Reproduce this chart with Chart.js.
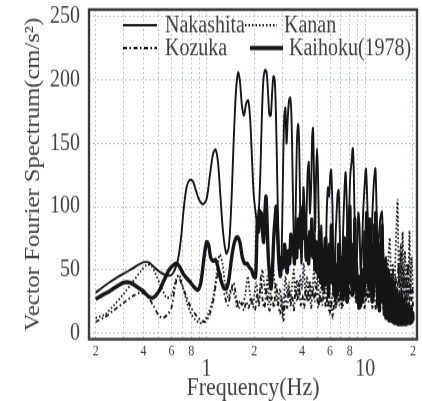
<!DOCTYPE html>
<html lang="en">

<head>
    <meta charset="UTF-8">
    <script src="https://cdn.jsdelivr.net/npm/chart.js"></script>
    <title>Vector Fourier Spectrum</title>
    <style>
        body { margin: 0; background: #fff; }
    </style>
</head>

<body>
    <canvas id="grafico" width="422" height="334" style="display:block;width:422px;height:401px"></canvas>
</body>

</html>
<script>
    // Nakashita (thin solid)
    var nakashitaHz = [0.2, 0.22, 0.25, 0.28, 0.3, 0.33, 0.36, 0.4, 0.43, 0.46, 0.5, 0.55, 0.6, 0.63, 0.66, 0.69, 0.72, 0.75, 0.78, 0.82,
        0.86, 0.9, 0.95, 1.0, 1.05, 1.1, 1.14, 1.18, 1.22, 1.27, 1.33, 1.38, 1.43, 1.48, 1.53, 1.58, 1.62, 1.67, 1.72, 1.78,
        1.83, 1.88, 1.93, 1.98, 2.03, 2.08, 2.13, 2.18, 2.23, 2.28, 2.34, 2.39, 2.44, 2.49, 2.54, 2.59, 2.64, 2.69, 2.74, 2.79,
        2.84, 2.89, 2.94, 2.99, 3.04, 3.09, 3.14, 3.19, 3.25, 3.31, 3.37, 3.43, 3.49, 3.55, 3.6, 3.66, 3.72, 3.78, 3.84, 3.9,
        3.96, 4.02, 4.08, 4.14, 4.2, 4.27, 4.34, 4.41, 4.48, 4.56, 4.63, 4.69, 4.76, 4.83, 4.9, 4.97, 5.04, 5.12, 5.2, 5.28,
        5.36, 5.45, 5.54, 5.63, 5.72, 5.82, 5.92, 6.02, 6.1, 6.2, 6.3, 6.4, 6.5, 6.6, 6.7, 6.8, 6.9, 7.0, 7.1, 7.25,
        7.4, 7.52, 7.64, 7.78, 7.92, 8.05, 8.2, 8.35, 8.48, 8.62, 8.76, 8.9, 9.05, 9.2, 9.35, 9.5, 9.7, 9.9, 10.1, 10.3,
        10.5, 10.7, 10.9, 11.1, 11.35, 11.6, 11.8, 12.0, 12.25, 12.5, 12.75, 13.0, 13.25, 13.5, 13.8, 14.1, 14.4, 14.7, 15.0, 15.3,
        15.6, 15.9, 16.2, 16.5, 16.8, 17.1, 17.4, 17.7, 18.0, 18.3, 18.6, 18.9, 19.2, 19.5, 19.8, 20.0];
    var nakashitaAmp = [32, 36, 41, 45, 47, 50, 53, 56, 56, 53, 49, 46, 46, 50, 58, 75, 100, 116, 121, 120,
        112, 105, 102, 106, 125, 142, 145, 135, 110, 80, 63, 68, 100, 150, 190, 206, 200, 180, 172, 182,
        184, 170, 140, 110, 97, 88, 95, 125, 170, 200, 208, 206, 190, 172, 172, 190, 203, 200, 170, 120,
        75, 50, 45, 80, 135, 172, 178, 150, 170, 184, 186, 170, 120, 70, 55, 110, 155, 165, 145, 85,
        55, 75, 115, 100, 60, 95, 128, 135, 95, 115, 155, 162, 120, 80, 125, 146, 125, 75, 55, 85,
        65, 45, 75, 55, 95, 115, 108, 125, 129, 105, 60, 45, 75, 95, 110, 113, 85, 50, 40, 80,
        112, 127, 105, 60, 95, 125, 135, 146, 125, 70, 45, 65, 95, 85, 50, 60, 95, 115, 130, 105,
        60, 85, 65, 95, 120, 130, 95, 60, 80, 92, 96, 65, 45, 60, 40, 50, 30, 45, 25, 40,
        20, 35, 18, 32, 15, 30, 14, 28, 12, 25, 12, 24, 10, 22, 10, 15];

    // Kanan (dotted)
    var kananHz = [0.2, 0.23, 0.26, 0.3, 0.34, 0.38, 0.42, 0.45, 0.48, 0.52, 0.56, 0.6, 0.64, 0.67, 0.71, 0.75, 0.8, 0.86, 0.92, 0.97,
        1.03, 1.1, 1.16, 1.21, 1.26, 1.31, 1.37, 1.43, 1.5, 1.56, 1.62, 1.68, 1.75, 1.82, 1.88, 1.94, 2.0, 2.06, 2.12, 2.18,
        2.25, 2.3, 2.36, 2.42, 2.48, 2.55, 2.62, 2.68, 2.75, 2.82, 2.9, 2.96, 3.02, 3.08, 3.15, 3.22, 3.3, 3.38, 3.46, 3.55,
        3.62, 3.7, 3.8, 3.9, 4.0, 4.1, 4.2, 4.3, 4.4, 4.5, 4.62, 4.75, 4.88, 5.0, 5.15, 5.3, 5.45, 5.6, 5.75, 5.9,
        6.05, 6.2, 6.35, 6.5, 6.65, 6.8, 6.95, 7.1, 7.3, 7.5, 7.7, 7.9, 8.1, 8.3, 8.5, 8.7, 8.9, 9.1, 9.3, 9.5,
        9.8, 10.1, 10.4, 10.7, 11.0, 11.3, 11.6, 11.9, 12.2, 12.5, 12.8, 13.1, 13.4, 13.7, 14.0, 14.3, 14.6, 14.9, 15.2, 15.5,
        15.8, 16.0, 16.3, 16.6, 16.9, 17.2, 17.5, 17.8, 18.1, 18.4, 18.7, 19.0, 19.3, 19.6, 20.0];
    var kananAmp = [12, 15, 22, 31, 40, 48, 54, 53, 46, 36, 28, 30, 42, 46, 36, 25, 15, 10, 8, 10,
        16, 28, 48, 62, 55, 38, 28, 35, 30, 20, 25, 22, 30, 45, 30, 22, 30, 40, 25, 35,
        50, 40, 30, 45, 25, 35, 55, 40, 30, 22, 35, 25, 12, 30, 45, 30, 40, 25, 38, 50,
        30, 42, 28, 45, 35, 55, 30, 45, 25, 40, 30, 50, 35, 45, 25, 40, 30, 45, 22, 35,
        18, 30, 40, 20, 35, 25, 40, 20, 35, 25, 40, 30, 50, 35, 45, 25, 40, 30, 45, 30,
        40, 25, 45, 30, 40, 25, 40, 30, 45, 28, 50, 30, 55, 25, 60, 75, 30, 55, 25, 60,
        90, 105, 40, 65, 30, 80, 35, 65, 25, 55, 30, 81, 35, 60, 30];

    // Kozuka (dash-dot)
    var kozukaHz = [0.2, 0.23, 0.26, 0.3, 0.34, 0.38, 0.42, 0.46, 0.5, 0.53, 0.57, 0.6, 0.63, 0.66, 0.7, 0.75, 0.8, 0.86, 0.92, 0.98,
        1.04, 1.1, 1.15, 1.2, 1.25, 1.3, 1.36, 1.42, 1.48, 1.54, 1.6, 1.66, 1.72, 1.78, 1.84, 1.9, 1.96, 2.02, 2.08, 2.14,
        2.2, 2.26, 2.32, 2.38, 2.44, 2.5, 2.58, 2.66, 2.74, 2.82, 2.9, 2.98, 3.06, 3.14, 3.22, 3.3, 3.38, 3.46, 3.55, 3.64,
        3.73, 3.82, 3.92, 4.02, 4.12, 4.22, 4.32, 4.44, 4.56, 4.68, 4.8, 4.92, 5.05, 5.2, 5.35, 5.5, 5.65, 5.8, 5.95, 6.1,
        6.25, 6.4, 6.55, 6.7, 6.85, 7.0, 7.2, 7.4, 7.6, 7.8, 8.0, 8.2, 8.4, 8.6, 8.8, 9.0, 9.3, 9.6, 9.9, 10.2,
        10.5, 10.8, 11.1, 11.4, 11.7, 12.0, 12.3, 12.6, 12.9, 13.2, 13.5, 13.8, 14.1, 14.4, 14.7, 15.0, 15.3, 15.6, 15.9, 16.2,
        16.5, 16.8, 17.1, 17.4, 17.7, 18.0, 18.3, 18.6, 18.9, 19.2, 19.5, 19.8, 20.0];
    var kozukaAmp = [9, 13, 18, 24, 29, 32, 30, 22, 14, 12, 15, 20, 35, 45, 38, 28, 20, 14, 10, 9,
        14, 25, 40, 50, 42, 30, 22, 32, 40, 28, 20, 24, 18, 25, 20, 28, 22, 18, 30, 22,
        45, 25, 20, 35, 22, 18, 30, 20, 40, 25, 15, 28, 10, 30, 20, 35, 22, 30, 18, 35,
        25, 40, 22, 30, 20, 35, 25, 40, 20, 35, 25, 38, 20, 30, 22, 35, 20, 30, 15, 25,
        12, 28, 20, 35, 22, 30, 20, 35, 25, 40, 28, 45, 30, 40, 25, 35, 20, 30, 20, 35,
        25, 40, 20, 30, 18, 35, 25, 45, 20, 40, 28, 55, 25, 45, 20, 50, 30, 45, 20, 55,
        30, 70, 25, 50, 20, 45, 25, 55, 20, 40, 25, 35, 20];

    // Kaihoku 1978 (thick solid)
    var kaihokuHz = [0.2, 0.22, 0.25, 0.28, 0.3, 0.33, 0.36, 0.4, 0.43, 0.46, 0.5, 0.54, 0.58, 0.62, 0.65, 0.68, 0.72, 0.78, 0.84, 0.88,
        0.92, 0.96, 1.0, 1.03, 1.06, 1.1, 1.14, 1.18, 1.23, 1.28, 1.33, 1.38, 1.44, 1.5, 1.56, 1.62, 1.68, 1.74, 1.8, 1.86,
        1.92, 1.98, 2.03, 2.06, 2.09, 2.12, 2.15, 2.18, 2.21, 2.25, 2.29, 2.33, 2.37, 2.41, 2.45, 2.5, 2.55, 2.6, 2.65, 2.7,
        2.75, 2.8, 2.86, 2.92, 2.98, 3.04, 3.1, 3.16, 3.22, 3.28, 3.34, 3.4, 3.46, 3.52, 3.58, 3.64, 3.7, 3.77, 3.84, 3.91,
        3.98, 4.05, 4.12, 4.19, 4.26, 4.33, 4.4, 4.47, 4.54, 4.61, 4.68, 4.75, 4.82, 4.9, 4.96, 5.0, 5.08, 5.16, 5.24, 5.32,
        5.4, 5.48, 5.56, 5.64, 5.72, 5.8, 5.88, 5.96, 6.04, 6.12, 6.2, 6.28, 6.36, 6.44, 6.52, 6.6, 6.7, 6.8, 6.9, 7.0,
        7.1, 7.2, 7.3, 7.4, 7.5, 7.6, 7.7, 7.8, 7.9, 8.0, 8.1, 8.2, 8.3, 8.4, 8.5, 8.6, 8.7, 8.8, 8.9, 9.0,
        9.12, 9.24, 9.36, 9.48, 9.6, 9.72, 9.84, 9.96, 10.08, 10.2, 10.32, 10.44, 10.56, 10.68, 10.8, 10.92, 11.04, 11.16, 11.28, 11.4,
        11.52, 11.64, 11.76, 11.88, 12.0, 12.15, 12.3, 12.45, 12.6, 12.75, 12.9, 13.05, 13.2, 13.35, 13.5, 13.65, 13.8, 13.95, 14.1, 14.3,
        14.5, 14.7, 14.9, 15.1, 15.3, 15.5, 15.7, 15.9, 16.1, 16.3, 16.5, 16.7, 16.9, 17.1, 17.3, 17.5, 17.7, 17.9, 18.1, 18.3,
        18.5, 18.7, 18.9, 19.1, 19.3, 19.5, 19.7, 19.9, 20.0];
    var kaihokuAmp = [27, 30, 34, 38, 40, 40, 37, 33, 29, 28, 33, 42, 50, 54, 55, 52, 46, 41, 36, 34,
        40, 58, 72, 70, 60, 57, 58, 52, 42, 36, 35, 42, 60, 72, 76, 72, 60, 55, 55, 52,
        50, 45, 44, 60, 90, 80, 97, 85, 95, 80, 72, 95, 108, 85, 60, 45, 35, 50, 75, 90,
        100, 80, 55, 45, 60, 52, 70, 58, 48, 65, 55, 78, 62, 75, 55, 80, 60, 90, 68, 95,
        78, 100, 75, 90, 58, 75, 55, 80, 62, 90, 60, 78, 50, 72, 48, 70, 45, 80, 40, 65,
        35, 60, 38, 75, 40, 55, 30, 70, 45, 85, 40, 60, 30, 55, 28, 50, 32, 70, 35, 55,
        28, 60, 30, 75, 35, 50, 25, 85, 40, 100, 45, 70, 30, 60, 35, 90, 40, 55, 25, 45,
        20, 40, 22, 50, 25, 45, 30, 80, 40, 95, 50, 85, 35, 90, 40, 70, 25, 60, 30, 85,
        40, 95, 45, 60, 22, 45, 18, 70, 30, 85, 25, 55, 15, 45, 12, 42, 12, 38, 10, 36,
        10, 34, 9, 32, 8, 30, 8, 28, 7, 27, 7, 25, 7, 24, 7, 22, 7, 22, 7, 20,
        8, 20, 8, 18, 8, 20, 9, 16, 10];

    var xGridHz = [0.2, 0.3, 0.4, 0.5, 0.6, 0.7, 0.8, 0.9, 1, 2, 3, 4, 5, 6, 7, 8, 9, 10, 20];
    var xTickText = ['2', '', '4', '', '6', '', '8', '', ['', '1'], '2', '', '4', '', '6', '', '8', '', ['', '10'], '2'];
    var yTicks = [0, 50, 100, 150, 200, 250];

    var serif = "'Liberation Serif', 'DejaVu Serif', serif";
    var gridColor = 'rgba(150, 150, 225, 0.75)';
    var inkColor = '#161616';
    var textColor = '#404040';

    function pontos(hz, amp) {
        return hz.map((f, i) => ({ x: f, y: amp[i] }));
    }

    // no extra room for the end tick labels, the frame is fixed
    function semMargem(s) {
        s.paddingTop = 0;
        s.paddingBottom = 0;
        s.paddingLeft = 0;
        s.paddingRight = 0;
    }

    // legend sits inside the plot, two rows
    var legendaPos = [
        { x0: 123, x1: 157, tx: 165, y: 21 },
        { x0: 245, x1: 277, tx: 284, y: 21 },
        { x0: 123, x1: 157, tx: 165, y: 40 },
        { x0: 250, x1: 283, tx: 289, y: 40 }
    ];

    const legendaInterna = {
        id: 'legendaInterna',
        afterDraw(chart) {
            const c = chart.ctx;
            chart.data.datasets.forEach((ds, i) => {
                const p = legendaPos[i];
                c.save();
                c.strokeStyle = ds.borderColor;
                c.lineWidth = ds.borderWidth;
                c.setLineDash(ds.borderDash || []);
                c.beginPath();
                c.moveTo(p.x0, p.y);
                c.lineTo(p.x1, p.y);
                c.stroke();
                c.setLineDash([]);
                c.fillStyle = textColor;
                c.font = '20px ' + serif;
                c.textBaseline = 'middle';
                c.textAlign = 'left';
                c.fillText(ds.label, p.tx, p.y + 1);
                c.restore();
            });
        }
    };

    const moldura = {
        id: 'moldura',
        afterDatasetsDraw(chart) {
            const a = chart.chartArea;
            const c = chart.ctx;
            c.save();
            c.strokeStyle = '#3a3a3a';
            c.lineWidth = 2.4;
            c.strokeRect(a.left, a.top, a.right - a.left, a.bottom - a.top);
            c.restore();
        }
    };

    const ctx = document.getElementById('grafico');

    var grafico = new Chart(ctx, {
        type: 'line',
        data: {
            datasets: [{
                label: 'Nakashita',
                data: pontos(nakashitaHz, nakashitaAmp),
                borderColor: inkColor,
                borderWidth: 1.9
            }, {
                label: 'Kanan',
                data: pontos(kananHz, kananAmp),
                borderColor: inkColor,
                borderWidth: 1.8,
                borderDash: [1.5, 2]
            }, {
                label: 'Kozuka',
                data: pontos(kozukaHz, kozukaAmp),
                borderColor: inkColor,
                borderWidth: 1.8,
                borderDash: [4, 2.5, 1.5, 2.5]
            }, {
                label: 'Kaihoku(1978)',
                data: pontos(kaihokuHz, kaihokuAmp),
                borderColor: inkColor,
                borderWidth: 3.4
            }]
        },
        options: {
            responsive: false,
            devicePixelRatio: 1,
            animation: false,
            layout: { padding: { top: 8, right: 5, bottom: 0, left: 0 } },
            elements: {
                point: { radius: 0 },
                line: { tension: 0.3, fill: false }
            },
            plugins: {
                legend: { display: false },
                tooltip: { enabled: false }
            },
            scales: {
                x: {
                    type: 'logarithmic',
                    min: 0.1815,
                    max: 21.2,
                    afterBuildTicks: s => { s.ticks = xGridHz.map(v => ({ value: v })); },
                    afterFit: s => { s.height = 51.5; semMargem(s); },
                    grid: { color: gridColor, lineWidth: 1, drawTicks: false },
                    border: { display: false, dash: [1.5, 2.5] },
                    ticks: {
                        autoSkip: false,
                        maxRotation: 0,
                        padding: 3,
                        color: textColor,
                        callback: (v, i) => xTickText[i],
                        font: c => (c.tick && (c.tick.value === 1 || c.tick.value === 10))
                            ? { family: serif, size: 20, lineHeight: 0.74 }
                            : { family: serif, size: 12, lineHeight: 1.2 }
                    },
                    title: {
                        display: true,
                        text: 'Frequency(Hz)',
                        color: textColor,
                        font: { family: serif, size: 22, lineHeight: 0.97 },
                        padding: 0
                    }
                },
                y: {
                    min: -4.75,
                    max: 255.6,
                    afterBuildTicks: s => { s.ticks = yTicks.map(v => ({ value: v })); },
                    afterFit: s => { s.width = 89; semMargem(s); },
                    grid: { color: gridColor, lineWidth: 1, drawTicks: false },
                    border: { display: false, dash: [1.5, 2.5] },
                    ticks: {
                        padding: 9,
                        color: textColor,
                        font: { family: serif, size: 20 }
                    },
                    title: {
                        display: true,
                        text: 'Vector Fourier Spectrum(cm/s²)',
                        color: textColor,
                        font: { family: serif, size: 20.5, lineHeight: 1.2 },
                        padding: { top: 21, bottom: 0 }
                    }
                }
            }
        },
        plugins: [moldura, legendaInterna]
    });
</script>
